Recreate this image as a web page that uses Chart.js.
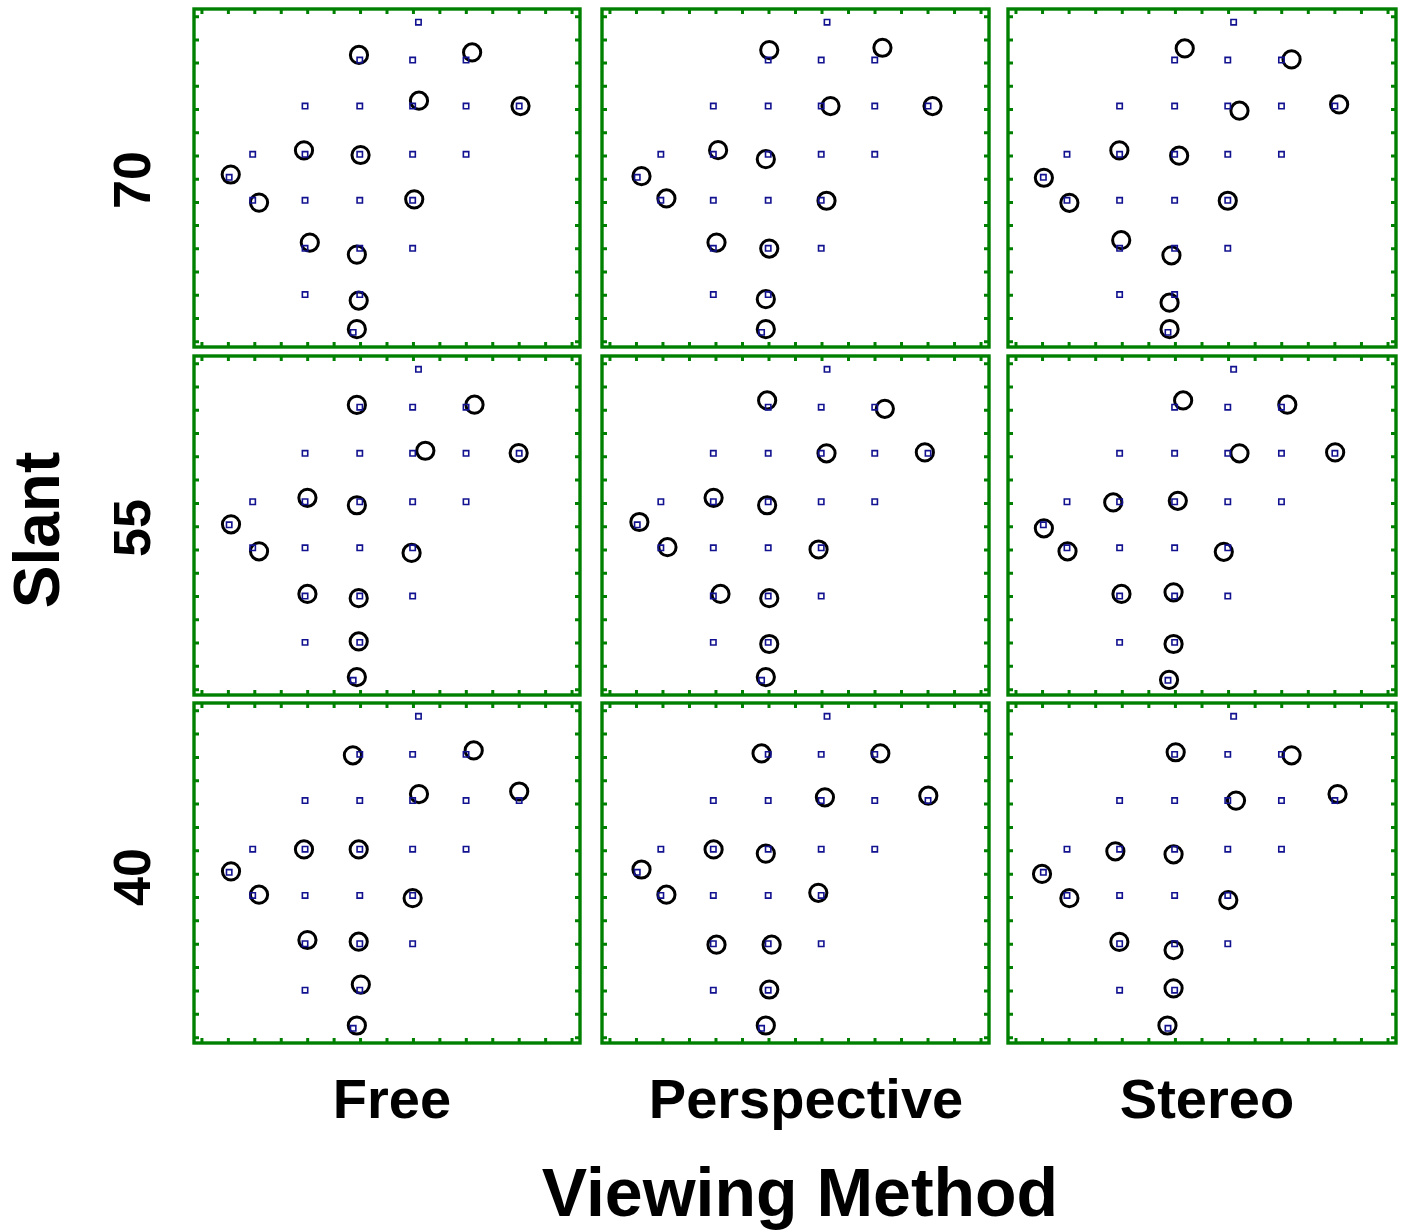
<!DOCTYPE html>
<html>
<head>
<meta charset="utf-8">
<script src="https://cdn.jsdelivr.net/npm/chart.js@4.4.1/dist/chart.umd.min.js"></script>
<style>
  html, body { margin: 0; padding: 0; background: #fff; }
  body { width: 1410px; height: 1231px; position: relative; overflow: hidden;
         font-family: "Liberation Sans", Arial, sans-serif; font-weight: bold; color: #000; }
  .panel { position: absolute; }
  .label { position: absolute; white-space: nowrap; line-height: 1; }
</style>
</head>
<body>
<script>
// Target positions (same in every panel), y counted downward
const targetX = [8.19, 5.97, 7.97, 9.99, 3.90, 5.97, 7.97, 9.99, 12.0, 1.92, 3.90, 5.97, 7.97,
                 9.99, 1.03, 1.92, 3.90, 5.97, 7.97, 3.90, 5.97, 7.97, 3.90, 5.97, 5.72];
const targetY = [0.24, 1.87, 1.87, 1.87, 3.85, 3.85, 3.85, 3.85, 3.85, 5.93, 5.93, 5.93, 5.93,
                 5.93, 6.92, 7.91, 7.91, 7.91, 7.91, 9.98, 9.98, 9.98, 11.97, 11.97, 13.6];

// Mean responses per panel: [x, y]
const free70 = [[5.94,1.65],[10.22,1.54],[8.21,3.62],[12.05,3.85],[3.86,5.76],[6.00,5.96],[1.09,6.80],
                [2.16,8.01],[8.03,7.87],[4.08,9.73],[5.86,10.25],[5.93,12.23],[5.86,13.46]];
const persp70 = [[6.01,1.44],[10.28,1.34],[8.32,3.85],[12.17,3.85],[4.08,5.75],[5.88,6.14],[1.19,6.87],
                 [2.13,7.83],[8.17,7.93],[4.02,9.73],[6.01,9.99],[5.88,12.17],[5.88,13.46]];
const stereo70 = [[6.35,1.37],[10.37,1.84],[8.41,4.05],[12.16,3.78],[3.89,5.76],[6.14,5.99],[1.05,6.94],
                  [2.01,8.02],[7.97,7.93],[3.96,9.63],[5.85,10.28],[5.78,12.32],[5.78,13.46]];
const free55 = [[5.86,1.77],[10.31,1.76],[8.45,3.74],[11.98,3.84],[3.99,5.76],[5.86,6.08],[1.10,6.90],
                [2.16,8.06],[7.93,8.13],[3.99,9.89],[5.93,10.07],[5.93,11.93],[5.86,13.46]];
const persp55 = [[5.93,1.58],[10.37,1.94],[8.17,3.85],[11.88,3.81],[3.91,5.76],[5.93,6.08],[1.11,6.80],
                 [2.17,7.88],[7.87,7.98],[4.17,9.89],[6.01,10.07],[6.01,12.04],[5.88,13.46]];
const stereo55 = [[6.29,1.58],[10.21,1.76],[8.41,3.85],[12.01,3.81],[3.66,5.96],[6.09,5.89],[1.05,7.07],
                  [1.94,8.06],[7.82,8.08],[3.97,9.89],[5.93,9.82],[5.93,12.04],[5.76,13.58]];
const free40 = [[5.71,1.91],[10.28,1.70],[8.21,3.57],[12.00,3.46],[3.86,5.94],[5.93,5.94],[1.10,6.88],
                [2.16,7.88],[7.97,8.03],[3.99,9.82],[5.93,9.89],[6.01,11.73],[5.86,13.48]];
const persp40 = [[5.72,1.83],[10.20,1.83],[8.11,3.71],[12.01,3.64],[3.91,5.94],[5.88,6.12],[1.19,6.80],
                 [2.13,7.88],[7.86,7.80],[4.02,10.02],[6.10,10.02],[6.01,11.94],[5.88,13.48]];
const stereo40 = [[6.01,1.78],[10.37,1.91],[8.28,3.85],[12.10,3.57],[3.74,6.02],[5.93,6.15],[0.98,6.99],
                  [2.01,8.03],[7.99,8.11],[3.89,9.90],[5.93,10.25],[5.93,11.89],[5.70,13.48]];

const tickValues = [0, 1, 2, 3, 4, 5, 6, 7, 8, 9, 10, 11, 12, 13, 14];
const viewingMethods = ['Free', 'Perspective', 'Stereo'];
const slants = ['70', '55', '40'];
const panelData = [
  [free70, persp70, stereo70],
  [free55, persp55, stereo55],
  [free40, persp40, stereo40]
];

const frameGreen = '#008000';
const targetBlue = '#121290';

// plot areas of the 3x3 grid
const colEdges = [[194, 580], [602, 989], [1008, 1396]];
const rowEdges = [[9, 347], [356, 695], [703, 1043]];
const pad = 3;

// green frame with inward ticks on all four sides
const framePlugin = {
  id: 'frame',
  afterDraw(chart) {
    const { ctx, chartArea: a, scales: { x, y } } = chart;
    ctx.save();
    ctx.strokeStyle = frameGreen;
    ctx.lineWidth = 3.4;
    ctx.strokeRect(a.left, a.top, a.right - a.left, a.bottom - a.top);
    ctx.lineWidth = 3;
    ctx.beginPath();
    tickValues.forEach(v => {
      const px = x.getPixelForValue(v);
      ctx.moveTo(px, a.top); ctx.lineTo(px, a.top + 5);
      ctx.moveTo(px, a.bottom); ctx.lineTo(px, a.bottom - 5);
      const py = y.getPixelForValue(v);
      ctx.moveTo(a.left, py); ctx.lineTo(a.left + 5, py);
      ctx.moveTo(a.right, py); ctx.lineTo(a.right - 5, py);
    });
    ctx.stroke();
    ctx.restore();
  }
};

function makePanel(row, col) {
  const [x0, x1] = colEdges[col];
  const [y0, y1] = rowEdges[row];
  const wrap = document.createElement('div');
  wrap.className = 'panel';
  wrap.style.left = (x0 - pad) + 'px';
  wrap.style.top = (y0 - pad) + 'px';
  const canvas = document.createElement('canvas');
  canvas.width = x1 - x0 + 2 * pad;
  canvas.height = y1 - y0 + 2 * pad;
  wrap.appendChild(canvas);
  document.body.appendChild(wrap);

  const responses = panelData[row][col];
  new Chart(canvas, {
    type: 'scatter',
    data: {
      datasets: [
        {
          label: 'Target',
          data: targetX.map((v, i) => ({ x: v, y: targetY[i] })),
          pointStyle: 'rect',
          pointRadius: 3.8,
          borderWidth: 1.6,
          borderColor: targetBlue,
          backgroundColor: 'rgba(0,0,0,0)'
        },
        {
          label: 'Response',
          data: responses.map(p => ({ x: p[0], y: p[1] })),
          pointStyle: 'circle',
          pointRadius: 8.6,
          borderWidth: 3,
          borderColor: '#000',
          backgroundColor: 'rgba(0,0,0,0)'
        }
      ]
    },
    options: {
      responsive: false,
      animation: false,
      layout: { padding: pad, autoPadding: false },
      scales: {
        x: { type: 'linear', min: -0.3, max: 14.3, display: false },
        y: { type: 'linear', min: -0.33, max: 14.23, reverse: true, display: false }
      },
      plugins: { legend: { display: false }, tooltip: { enabled: false } },
      elements: { point: { hoverRadius: 8.6 } }
    },
    plugins: [framePlugin]
  });
}

function addLabel(text, cx, cy, size, rotate) {
  const el = document.createElement('div');
  el.className = 'label';
  el.textContent = text;
  el.style.fontSize = size + 'px';
  el.style.left = cx + 'px';
  el.style.top = cy + 'px';
  el.style.transform = 'translate(-50%, -50%)' + (rotate ? ' rotate(-90deg)' : '');
  document.body.appendChild(el);
}

for (let r = 0; r < 3; r++) {
  for (let c = 0; c < 3; c++) makePanel(r, c);
}

const rowLabelY = [180, 528, 877];
slants.forEach((s, i) => addLabel(s, 132, rowLabelY[i], 52, true));
addLabel('Slant', 37, 530, 64, true);

const colLabelX = [392, 806, 1207];
viewingMethods.forEach((m, i) => addLabel(m, colLabelX[i], 1099, 56, false));
addLabel('Viewing Method', 800, 1192, 68, false);
</script>
</body>
</html>
